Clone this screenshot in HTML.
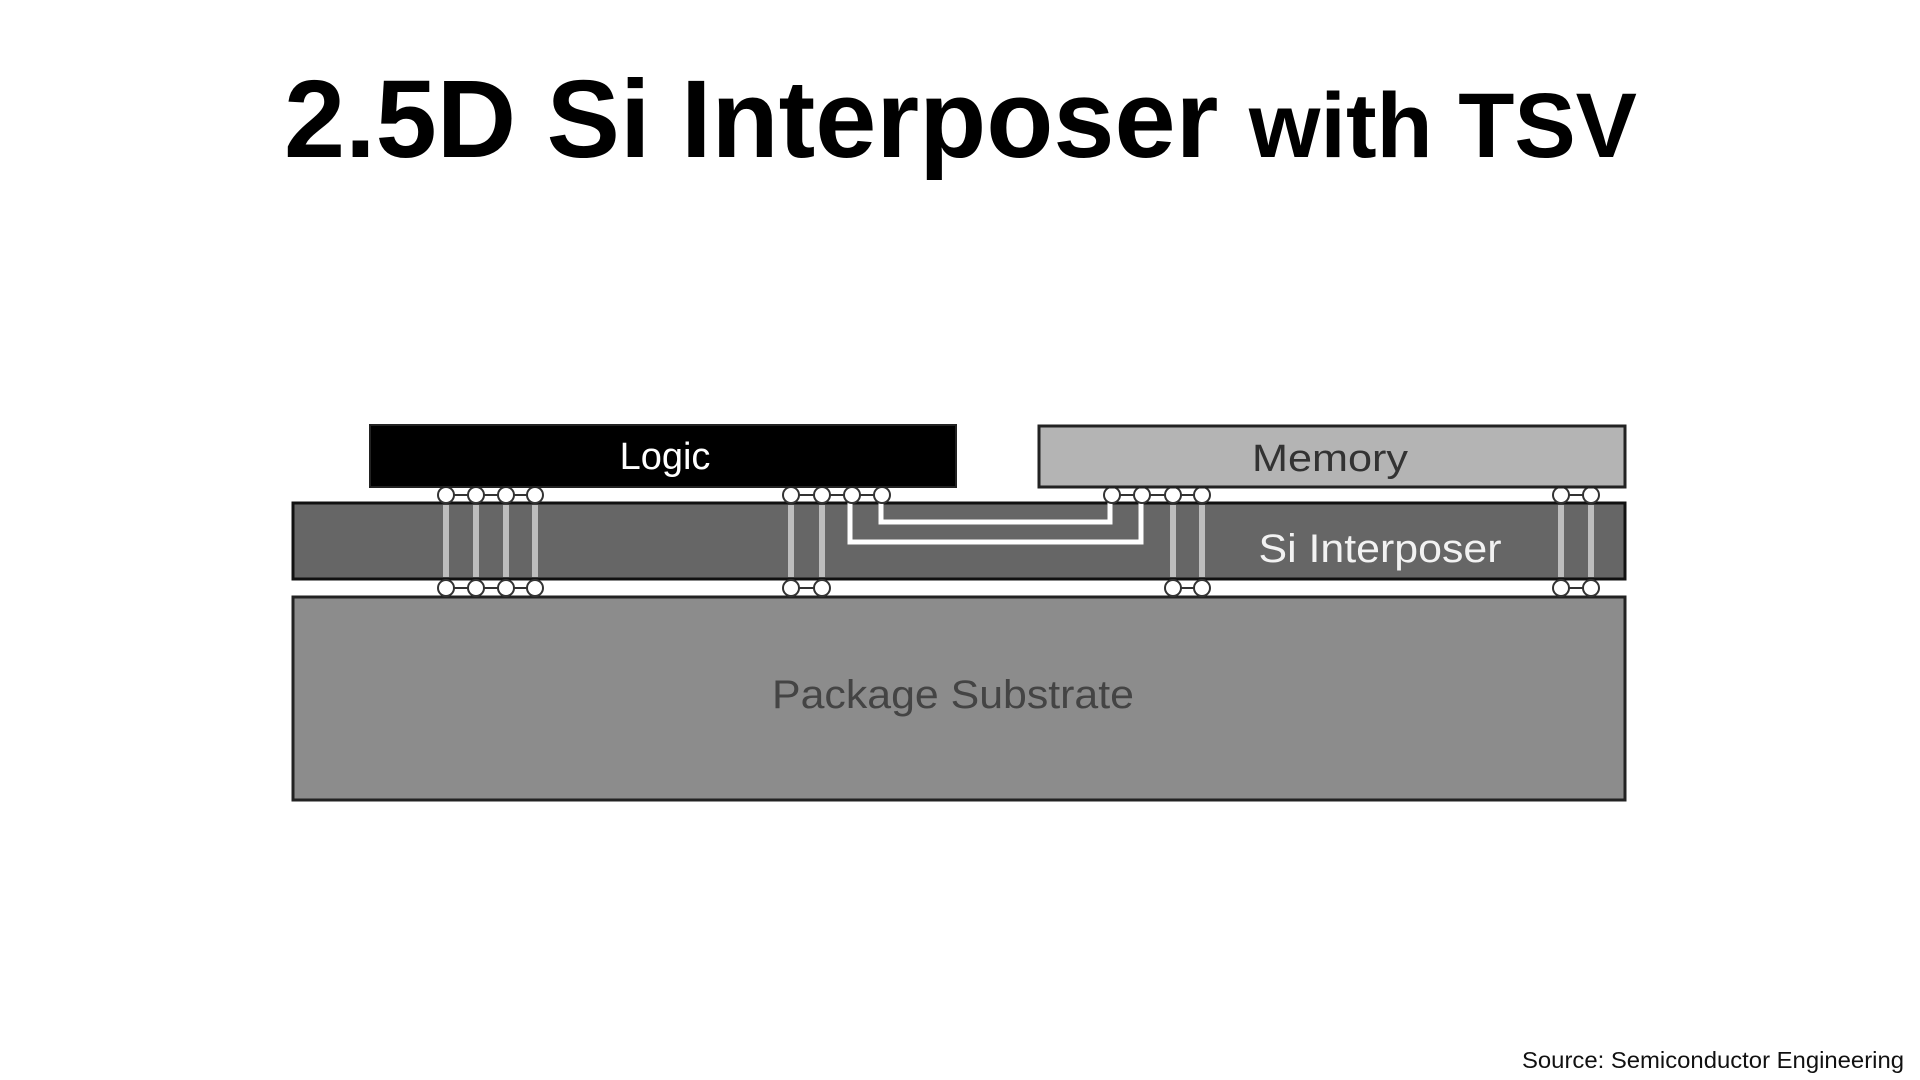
<!DOCTYPE html>
<html><head><meta charset="utf-8"><style>
html,body{margin:0;padding:0;background:#fff;}
svg{display:block;}
</style></head><body>
<svg width="1920" height="1080" viewBox="0 0 1920 1080" xmlns="http://www.w3.org/2000/svg" font-family="Liberation Sans, Arial, sans-serif">
<rect width="1920" height="1080" fill="#fff"/>
<text x="284" y="157" font-weight="bold" fill="#000" textLength="1353" lengthAdjust="spacingAndGlyphs"><tspan font-size="110">2.5D Si Interposer </tspan><tspan font-size="92">with TSV</tspan></text>

<!-- substrate -->
<rect x="293" y="597" width="1332" height="203" fill="#8c8c8c" stroke="#222" stroke-width="3"/>
<text x="953" y="708" text-anchor="middle" font-size="40" fill="#444" textLength="362" lengthAdjust="spacingAndGlyphs">Package Substrate</text>

<!-- interposer -->
<rect x="293" y="503" width="1332" height="76" fill="#666" stroke="#111" stroke-width="3"/>
<g fill="#bdbdbd">
<rect x="443" y="505" width="6" height="72"/><rect x="473" y="505" width="6" height="72"/>
<rect x="503" y="505" width="6" height="72"/><rect x="532" y="505" width="6" height="72"/>
<rect x="788" y="505" width="6" height="72"/><rect x="819" y="505" width="6" height="72"/>
<rect x="1170" y="505" width="6" height="72"/><rect x="1199" y="505" width="6" height="72"/>
<rect x="1558" y="505" width="6" height="72"/><rect x="1588" y="505" width="6" height="72"/>
</g>
<g fill="none" stroke="#fff" stroke-width="5">
<polyline points="850,502 850,542 1141,542 1141,502"/>
<polyline points="881,502 881,522 1110,522 1110,502"/>
</g>
<text x="1380" y="562" text-anchor="middle" font-size="40" fill="#f2f2f2" textLength="243" lengthAdjust="spacingAndGlyphs">Si Interposer</text>

<!-- bumps -->
<g stroke="#333" stroke-width="2">
<line x1="446" y1="495" x2="535" y2="495"/><line x1="791" y1="495" x2="882" y2="495"/>
<line x1="1112" y1="495" x2="1202" y2="495"/><line x1="1561" y1="495" x2="1591" y2="495"/>
<line x1="446" y1="588" x2="535" y2="588"/><line x1="791" y1="588" x2="822" y2="588"/>
<line x1="1173" y1="588" x2="1202" y2="588"/><line x1="1561" y1="588" x2="1591" y2="588"/>
</g>
<g fill="#fff" stroke="#333" stroke-width="2">
<ellipse cx="446" cy="495" rx="8" ry="8"/><ellipse cx="476" cy="495" rx="8" ry="8"/><ellipse cx="506" cy="495" rx="8" ry="8"/><ellipse cx="535" cy="495" rx="8" ry="8"/>
<ellipse cx="791" cy="495" rx="8" ry="8"/><ellipse cx="822" cy="495" rx="8" ry="8"/><ellipse cx="852" cy="495" rx="8" ry="8"/><ellipse cx="882" cy="495" rx="8" ry="8"/>
<ellipse cx="1112" cy="495" rx="8" ry="8"/><ellipse cx="1142" cy="495" rx="8" ry="8"/><ellipse cx="1173" cy="495" rx="8" ry="8"/><ellipse cx="1202" cy="495" rx="8" ry="8"/>
<ellipse cx="1561" cy="495" rx="8" ry="8"/><ellipse cx="1591" cy="495" rx="8" ry="8"/>
<ellipse cx="446" cy="588" rx="8" ry="8"/><ellipse cx="476" cy="588" rx="8" ry="8"/><ellipse cx="506" cy="588" rx="8" ry="8"/><ellipse cx="535" cy="588" rx="8" ry="8"/>
<ellipse cx="791" cy="588" rx="8" ry="8"/><ellipse cx="822" cy="588" rx="8" ry="8"/>
<ellipse cx="1173" cy="588" rx="8" ry="8"/><ellipse cx="1202" cy="588" rx="8" ry="8"/>
<ellipse cx="1561" cy="588" rx="8" ry="8"/><ellipse cx="1591" cy="588" rx="8" ry="8"/>
</g>

<!-- dies -->
<rect x="370" y="425" width="586" height="62" fill="#000" stroke="#222" stroke-width="2"/>
<text x="665" y="469" text-anchor="middle" font-size="38" fill="#fff">Logic</text>
<rect x="1039" y="426" width="586" height="61" fill="#b4b4b4" stroke="#222" stroke-width="3"/>
<text x="1330" y="471" text-anchor="middle" font-size="38" fill="#333" textLength="156" lengthAdjust="spacingAndGlyphs">Memory</text>

<text x="1904" y="1068" text-anchor="end" font-size="23" fill="#111" textLength="382" lengthAdjust="spacingAndGlyphs">Source: Semiconductor Engineering</text>
</svg>
</body></html>
